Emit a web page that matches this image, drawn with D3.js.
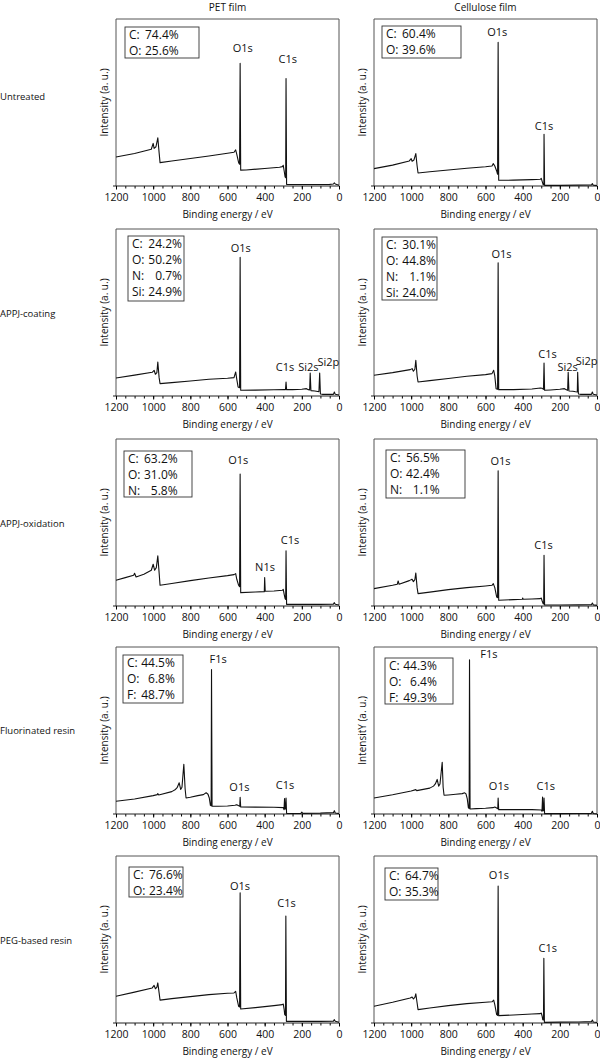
<!DOCTYPE html>
<html>
<head>
<meta charset="utf-8">
<script src="https://cdn.jsdelivr.net/npm/d3@7"></script>
<style>
  body { margin: 0; background: #fff; }
  svg text { font-family: "Open Sans", "Liberation Sans", sans-serif; fill: #111; }
</style>
</head>
<body>
<div id="chart"></div>
<script>
// column / row names
var columns = ["PET film", "Cellulose film"];
var rows = ["Untreated", "APPJ-coating", "APPJ-oxidation", "Fluorinated resin", "PEG-based resin"];

var majorTicks = [1200, 1000, 800, 600, 400, 200, 0];
var minorTicks = d3.range(0, 1201, 50);

// spectra: [binding energy (eV), intensity (a.u., 0-100 of frame)]
var petUntreated = [[1200,17.4],[1100,19.5],[1010,22],[1000,25.5],[995,22.5],[985,23.5],[975,28.8],[968,20],[963,14],[900,15],[800,16.5],[700,18],[600,19.6],[565,20.2],[556,21.6],[550,19],[540,14],[535,13],[532,73.4],[529,9.5],[500,9.6],[400,10.5],[320,11.2],[305,11.6],[300,12.4],[295,9],[290,5.4],[287,5],[285,64.4],[282,1],[250,0.9],[150,0.9],[50,1],[30,1.2],[25,1.9],[20,1.2],[0,0.5]];
var celUntreated = [[1200,10.4],[1100,12.5],[1010,15],[1000,16.4],[995,14.8],[985,15.6],[975,19.4],[968,12],[963,7.8],[900,8.5],[800,9.6],[700,10.6],[600,11.5],[565,12],[558,13.4],[550,12],[540,9],[535,7],[532,86],[529,3.4],[450,3.5],[350,3.8],[305,4],[300,4.6],[293,2],[290,0.8],[286,0.8],[285,31],[282,0.4],[200,0.4],[100,0.5],[30,0.6],[25,1.4],[20,0.5],[0,0.2]];
var petCoating = [[1200,10.8],[1100,12.5],[1005,14.2],[995,15.4],[988,13],[980,14],[975,20.4],[968,11],[963,7.4],[900,8],[800,9],[700,10],[600,10.6],[565,11],[556,14.4],[550,10],[543,5.4],[535,5],[532,83],[529,3.4],[450,3.5],[350,3.7],[295,3.9],[288,3.8],[285,8.4],[282,3.8],[250,3.8],[200,4],[175,4.4],[165,3.8],[158,3.6],[155,13.8],[151,3.2],[130,3],[115,2.7],[108,2.6],[104,13.8],[100,1.2],[90,1],[30,1],[25,2.4],[20,1],[0,0.6]];
var celCoating = [[1200,12.4],[1100,14],[1005,15.8],[995,16.4],[988,14.8],[980,16],[975,21.4],[968,12],[963,8.4],[900,9.2],[800,10.5],[700,11.8],[600,12.8],[565,13.4],[556,15.4],[550,12],[543,4.4],[535,4],[532,79.8],[529,3.8],[450,3.8],[350,4.2],[305,4.8],[295,4.6],[288,4],[285,19.8],[282,3.4],[250,3.6],[200,4],[175,4.4],[165,3.8],[158,3.4],[155,14.2],[151,3],[130,2.8],[115,2.5],[106,2.4],[104,14.2],[100,1.2],[90,1],[30,1],[25,2.4],[20,1],[0,0.6]];
var petOxidation = [[1200,15.4],[1150,17],[1105,18.4],[1100,19.6],[1092,17.4],[1050,19],[1010,21.4],[1000,25],[992,21.4],[983,23],[975,30],[968,20],[963,12.4],[900,13.5],[800,15.2],[700,16.8],[600,18.2],[565,18.8],[556,19.4],[550,16],[540,12.4],[535,11.5],[532,79],[529,8],[450,8.4],[402,8.6],[400,17],[397,8.8],[350,9],[305,9.4],[300,10],[295,7],[290,4.4],[287,4],[285,33],[282,1],[200,1],[100,1],[30,1.1],[25,2],[20,1],[0,0.6]];
var celOxidation = [[1200,10.4],[1100,12.4],[1075,13],[1070,15],[1065,13],[1010,15.2],[1000,15.8],[995,16],[988,14.6],[980,15.8],[975,19.8],[968,11],[963,7.4],[900,8.3],[800,9.8],[700,11],[600,12],[565,12.4],[558,13.4],[550,11],[540,5.4],[535,5],[532,81],[529,3.4],[450,3.8],[402,4],[400,4.8],[397,4],[350,4.2],[305,4.4],[300,4.8],[295,3],[290,1.4],[287,1.2],[285,30.4],[282,0.6],[200,0.6],[100,0.7],[30,0.8],[25,1.8],[20,0.7],[0,0.4]];
var petFluor = [[1200,7.6],[1100,9],[1000,11],[978,11.6],[975,12.2],[970,11.4],[900,13.4],[880,14.7],[870,16],[860,18.7],[852,14.7],[845,16],[835,29.7],[828,15],[823,9.6],[800,10],[760,11],[730,11.6],[715,12.7],[705,11.8],[698,9.6],[692,5.2],[688,5],[686,86.5],[683,4.6],[650,4.6],[600,4.8],[560,5.2],[550,5.6],[540,5],[534,4.6],[532,10],[529,4.2],[450,4.1],[350,4],[300,3.8],[296,2.6],[293,9.2],[290,3],[287,3],[285,9.6],[282,0.4],[250,0.3],[205,0.4],[200,1.1],[195,0.4],[100,0.5],[30,0.8],[25,2],[20,0.6],[0,0.2]];
var celFluor = [[1200,9.6],[1100,11.5],[1000,13.8],[975,14.6],[970,14],[900,15.5],[880,16.7],[870,18],[860,20.7],[852,16.7],[845,18],[833,31],[828,16],[823,11.2],[800,11.4],[760,11.8],[725,12.2],[712,12.7],[705,12],[698,9],[692,3.6],[688,3.4],[686,92.4],[683,3],[650,3.2],[600,3.4],[560,3.8],[550,4.2],[540,3.6],[534,3.2],[532,9.6],[529,2.6],[450,2.6],[350,2.6],[300,2.4],[296,1.6],[293,10.2],[290,2],[287,2],[285,9.6],[282,0.2],[200,0.2],[100,0.3],[30,0.4],[25,1.6],[20,0.3],[0,0]];
var petPEG = [[1200,16],[1100,18.5],[1005,21],[995,22.5],[988,20.5],[980,21.5],[975,24],[968,18],[963,13.7],[900,14.6],[800,15.8],[700,17],[600,17.8],[565,18],[556,19],[550,15],[540,10],[535,9.6],[532,78],[529,8.4],[450,9.2],[350,10.4],[305,11],[300,11.4],[295,8],[292,5],[288,4.6],[286,64],[283,1],[200,1],[100,1],[30,1.1],[25,2],[20,1],[0,0.4]];
var celPEG = [[1200,10],[1100,12.4],[1005,15],[995,15.6],[988,14.4],[980,15.4],[975,17.5],[968,12],[963,8],[900,9],[800,10.4],[700,11.6],[600,12.4],[565,12.7],[556,13.7],[550,11],[540,5],[535,4.6],[532,82],[529,4.4],[450,4.8],[350,5.4],[305,5.6],[300,6],[295,4],[292,2],[288,1.8],[286,38.8],[283,0.4],[200,0.5],[100,0.6],[30,0.8],[25,1.8],[20,0.6],[0,0.3]];

// peak labels: [name, eV, intensity level]
var petUntreatedPeaks = [["O1s",518,82.4],["C1s",276,75.8]];
var celUntreatedPeaks = [["O1s",537,92],["C1s",285,35.8]];
var petCoatingPeaks = [["O1s",529,88.4],["C1s",290,17.4],["Si2s",165,17.4],["Si2p",57,20.4]];
var celCoatingPeaks = [["O1s",514,85],["C1s",266,25],["Si2s",158,17.4],["Si2p",56,21]];
var petOxidationPeaks = [["O1s",542,87.4],["N1s",398,23],["C1s",264,39.4]];
var celOxidationPeaks = [["O1s",519,87],["C1s",288,36.4]];
var petFluorPeaks = [["F1s",650,93],["O1s",536,16.3],["C1s",290,17.3]];
var celFluorPeaks = [["F1s",582,95.6],["O1s",528,16.9],["C1s",276,16.9]];
var petPEGPeaks = [["O1s",533,81.9],["C1s",282,71.9]];
var celPEGPeaks = [["O1s",528,88.8],["C1s",265,45]];

// surface composition (at.%)
var petUntreatedComp = [["C:","74.4%"],["O:","25.6%"]];
var celUntreatedComp = [["C:","60.4%"],["O:","39.6%"]];
var petCoatingComp = [["C:","24.2%"],["O:","50.2%"],["N:","0.7%"],["Si:","24.9%"]];
var celCoatingComp = [["C:","30.1%"],["O:","44.8%"],["N:","1.1%"],["Si:","24.0%"]];
var petOxidationComp = [["C:","63.2%"],["O:","31.0%"],["N:","5.8%"]];
var celOxidationComp = [["C:","56.5%"],["O:","42.4%"],["N:","1.1%"]];
var petFluorComp = [["C:","44.5%"],["O:","6.8%"],["F:","48.7%"]];
var celFluorComp = [["C:","44.3%"],["O:","6.4%"],["F:","49.3%"]];
var petPEGComp = [["C:","76.6%"],["O:","23.4%"]];
var celPEGComp = [["C:","64.7%"],["O:","35.3%"]];

var spectra = [[petUntreated, celUntreated],[petCoating, celCoating],[petOxidation, celOxidation],[petFluor, celFluor],[petPEG, celPEG]];
var peaks = [[petUntreatedPeaks, celUntreatedPeaks],[petCoatingPeaks, celCoatingPeaks],[petOxidationPeaks, celOxidationPeaks],[petFluorPeaks, celFluorPeaks],[petPEGPeaks, celPEGPeaks]];
var comps = [[petUntreatedComp, celUntreatedComp],[petCoatingComp, celCoatingComp],[petOxidationComp, celOxidationComp],[petFluorComp, celFluorComp],[petPEGComp, celPEGComp]];

// layout
var svgWidth = 600, svgHeight = 1058;
var colLeft = [116, 374];
var rowTop = [19, 229, 439, 647, 856];
var rowLabelY = [96, 313, 523, 730, 940];
var plotW = 223, plotH = 167;
// composition box: [dx, dy, width, height] relative to frame
var boxes = [
  [[9,8,74,31],[8,7,79,32]],
  [[12,7,56,65],[8,8,55,63]],
  [[8,12,68,46],[12,11,79,48]],
  [[7,8,60,48],[11,11,68,46]],
  [[13,11,54,30],[11,12,53,32]]
];

var svg = d3.select("#chart").append("svg")
  .attr("width", svgWidth)
  .attr("height", svgHeight);

var x = d3.scaleLinear().domain([1200, 0]).range([0, plotW]);
var y = d3.scaleLinear().domain([0, 100]).range([plotH, 0]);

var line = d3.line()
  .x(function(d) { return x(d[0]); })
  .y(function(d) { return y(d[1]); });

// column titles
columns.forEach(function(c, j) {
  svg.append("text")
    .attr("x", colLeft[j] + plotW / 2)
    .attr("y", 11)
    .attr("text-anchor", "middle")
    .style("font-size", "10px")
    .text(c);
});

rows.forEach(function(r, i) {
  svg.append("text")
    .attr("x", 0)
    .attr("y", rowLabelY[i] + 3.5)
    .style("font-size", "9.5px")
    .text(r);

  columns.forEach(function(c, j) {
    var g = svg.append("g")
      .attr("transform", "translate(" + colLeft[j] + "," + rowTop[i] + ")");

    // frame
    g.append("path")
      .attr("d", "M0," + plotH + "V0H" + plotW + "V" + plotH)
      .attr("fill", "none")
      .attr("stroke", "#555")
      .attr("stroke-width", 1);

    // minor ticks
    g.append("g")
      .attr("transform", "translate(0," + plotH + ")")
      .call(d3.axisBottom(x).tickValues(minorTicks).tickSize(2.5).tickFormat(""))
      .call(function(a) { a.select(".domain").remove(); });

    // major ticks + labels
    var ax = g.append("g")
      .attr("transform", "translate(0," + plotH + ")")
      .call(d3.axisBottom(x).tickValues(majorTicks).tickSize(3.5).tickSizeOuter(0)
        .tickPadding(4).tickFormat(d3.format("d")));
    ax.selectAll("text").style("font-size", "10.5px").attr("fill", "#111");
    ax.select(".domain").attr("d", "M-3,0H" + plotW).attr("stroke", "#222");

    g.append("text")
      .attr("x", plotW / 2)
      .attr("y", plotH + 32)
      .attr("text-anchor", "middle")
      .style("font-size", "10px")
      .text("Binding energy / eV");

    g.append("text")
      .attr("transform", "translate(-12," + (plotH / 2) + ") rotate(-90)")
      .attr("text-anchor", "middle")
      .attr("dy", "0.35em")
      .style("font-size", "10px")
      .text(i === 3 && j === 1 ? "IntensitY (a. u.)" : "Intensity (a. u.)");

    // spectrum
    g.append("path")
      .datum(spectra[i][j])
      .attr("fill", "none")
      .attr("stroke", "#111")
      .attr("stroke-width", 1.1)
      .attr("stroke-linejoin", "round")
      .attr("d", line);

    // peak labels
    g.selectAll(".peak")
      .data(peaks[i][j])
      .enter()
      .append("text")
      .attr("class", "peak")
      .attr("x", function(d) { return x(d[1]); })
      .attr("y", function(d) { return y(d[2]); })
      .attr("dy", "0.35em")
      .attr("text-anchor", "middle")
      .style("font-size", "11px")
      .text(function(d) { return d[0]; });

    // composition box
    var b = boxes[i][j];
    var bg = g.append("g").attr("transform", "translate(" + b[0] + "," + b[1] + ")");
    bg.append("rect")
      .attr("width", b[2])
      .attr("height", b[3])
      .attr("fill", "#fff")
      .attr("stroke", "#333")
      .attr("stroke-width", 0.9);
    var rowsG = bg.selectAll(".comp")
      .data(comps[i][j])
      .enter()
      .append("g")
      .attr("transform", function(d, k) { return "translate(0," + (8 + k * 16) + ")"; });
    var labs = rowsG.append("text")
      .attr("x", 4)
      .attr("dy", "0.35em")
      .style("font-size", "12px")
      .text(function(d) { return d[0]; });
    var vals = rowsG.append("text")
      .attr("dy", "0.35em")
      .attr("text-anchor", "end")
      .style("font-size", "12px")
      .text(function(d) { return d[1]; });
    // values right-aligned just after the widest "label value" pair
    var lw = labs.nodes().map(function(n) { return n.getComputedTextLength(); });
    var vw = vals.nodes().map(function(n) { return n.getComputedTextLength(); });
    var right = 4 + d3.max(lw.map(function(w, k) { return w + vw[k]; })) + 3.5;
    vals.attr("x", right);
  });
});
</script>
</body>
</html>
